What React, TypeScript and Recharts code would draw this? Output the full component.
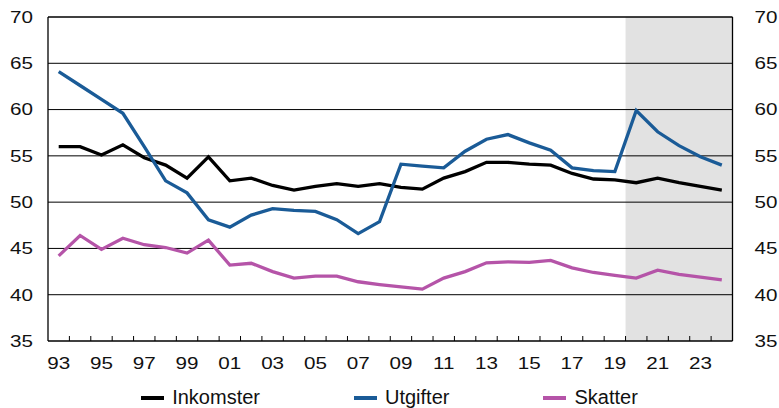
import {
  ComposedChart,
  Legend,
  Line,
  ReferenceArea,
  ReferenceLine,
  XAxis,
  YAxis,
} from "recharts";

const years = [
  1993, 1994, 1995, 1996, 1997, 1998, 1999, 2000, 2001, 2002, 2003, 2004, 2005, 2006, 2007, 2008,
  2009, 2010, 2011, 2012, 2013, 2014, 2015, 2016, 2017, 2018, 2019, 2020, 2021, 2022, 2023, 2024,
];
const inkomster = [
  56.0, 56.0, 55.1, 56.2, 54.8, 54.0, 52.6, 54.9, 52.3, 52.6, 51.8, 51.3, 51.7, 52.0, 51.7, 52.0,
  51.6, 51.4, 52.6, 53.3, 54.3, 54.3, 54.1, 54.0, 53.1, 52.5, 52.4, 52.1, 52.6, 52.1, 51.7, 51.3,
];
const utgifter = [
  64.1, 62.6, 61.1, 59.6, 56.0, 52.3, 51.0, 48.1, 47.3, 48.6, 49.3, 49.1, 49.0, 48.1, 46.6, 47.9,
  54.1, 53.9, 53.7, 55.5, 56.8, 57.3, 56.4, 55.6, 53.7, 53.4, 53.3, 59.9, 57.6, 56.1, 54.9, 54.0,
];
const skatter = [
  44.2, 46.4, 44.9, 46.1, 45.4, 45.1, 44.5, 45.9, 43.2, 43.4, 42.5, 41.8, 42.0, 42.0, 41.4, 41.1,
  40.85, 40.6, 41.8, 42.5, 43.45, 43.55, 43.5, 43.7, 42.9, 42.4, 42.1, 41.8, 42.65, 42.2, 41.9, 41.6,
];
const labelYears = [
  1993, 1995, 1997, 1999, 2001, 2003, 2005, 2007, 2009, 2011, 2013, 2015, 2017, 2019, 2021, 2023,
];
const yTicks = [35, 40, 45, 50, 55, 60, 65, 70];
const gridValues = [40, 45, 50, 55, 60, 65, 70];
const forecastStart = 2020;

// skatter sits on the right axis so that axis gets drawn (same 35-70 scale)
const series = [
  { key: "inkomster", name: "Inkomster", color: "#000000", axis: "L" },
  { key: "utgifter", name: "Utgifter", color: "#1a5b97", axis: "L" },
  { key: "skatter", name: "Skatter", color: "#b554a8", axis: "R" },
];

const data = years.map((year, i) => ({
  year,
  inkomster: inkomster[i],
  utgifter: utgifter[i],
  skatter: skatter[i],
}));

const first = years[0] - 0.5;
const last = years[years.length - 1] + 0.5;
const minorTicks = years.slice(1).map((y) => y - 0.5);
const xTicks = [...minorTicks, ...labelYears].sort((a, b) => a - b);

const FONT = "'Liberation Sans', Arial, Helvetica, sans-serif";
const X_MARGIN = 22;

// the original's digits are drawn wide, so stretch them a bit
function WideText({ anchor, children }: { anchor: string; children: any }) {
  return (
    <text
      transform="scale(1.25,1)"
      textAnchor={anchor}
      dy="0.355em"
      fontSize={16.5}
      fontFamily={FONT}
      fill="#111"
    >
      {children}
    </text>
  );
}

function YTick(props: any) {
  const { x, y, payload, anchor } = props;
  return (
    <g transform={`translate(${x},${y})`}>
      <WideText anchor={anchor}>{payload.value}</WideText>
    </g>
  );
}

// half-year ticks are short inward marks, whole years get a label
function XTick(props: any) {
  const { x, y, payload } = props;
  const v = payload.value as number;
  if (!Number.isInteger(v)) {
    const y0 = y - X_MARGIN;
    return <line x1={x} x2={x} y1={y0} y2={y0 - 5} stroke="#000" strokeWidth={1} />;
  }
  return (
    <g transform={`translate(${x},${y})`}>
      <WideText anchor="middle">{String(v).slice(2)}</WideText>
    </g>
  );
}

function LegendRow() {
  return (
    <div
      style={{
        height: 37,
        boxSizing: "border-box",
        paddingTop: 14,
        display: "flex",
        justifyContent: "center",
        gap: 94,
        fontFamily: FONT,
        fontSize: 20,
        lineHeight: "20px",
        color: "#111",
      }}
    >
      {series.map((s) => (
        <div key={s.key} style={{ display: "flex", alignItems: "center" }}>
          <span
            style={{
              display: "inline-block",
              width: 23,
              height: 4,
              marginTop: 2,
              marginRight: 8,
              background: s.color,
            }}
          />
          {s.name}
        </div>
      ))}
    </div>
  );
}

export default function App() {
  return (
    <div style={{ position: "absolute", left: 0, top: 0 }}>
      <ComposedChart
        width={779}
        height={408}
        data={data}
        margin={{ top: 17, right: 0, bottom: 0, left: 0 }}
      >
        <XAxis
          dataKey="year"
          type="number"
          domain={[first, last]}
          ticks={xTicks}
          interval={0}
          tickLine={false}
          tickSize={0}
          tickMargin={X_MARGIN}
          axisLine={{ stroke: "#000", strokeWidth: 1.3 }}
          height={30}
          tick={(p: any) => <XTick {...p} />}
        />
        <YAxis
          yAxisId="L"
          domain={[35, 70]}
          ticks={yTicks}
          interval={0}
          width={48}
          tickLine={false}
          tickSize={0}
          tickMargin={15}
          axisLine={{ stroke: "#000", strokeWidth: 1.3 }}
          tick={(p: any) => <YTick {...p} anchor="end" />}
        />
        <YAxis
          yAxisId="R"
          orientation="right"
          domain={[35, 70]}
          ticks={yTicks}
          interval={0}
          width={46.5}
          tickLine={false}
          tickSize={0}
          tickMargin={22}
          axisLine={{ stroke: "#000", strokeWidth: 1.3 }}
          tick={(p: any) => <YTick {...p} anchor="start" />}
        />
        <ReferenceArea
          yAxisId="L"
          x1={forecastStart - 0.5}
          x2={last}
          fill="#e2e2e2"
          fillOpacity={1}
          stroke="none"
        />
        {gridValues.map((v) => (
          <ReferenceLine
            key={v}
            yAxisId="L"
            y={v}
            stroke="#000"
            strokeWidth={v === 70 ? 1.3 : 1}
          />
        ))}
        <Legend verticalAlign="bottom" height={37} content={() => <LegendRow />} />
        {series.map((s) => (
          <Line
            key={s.key}
            yAxisId={s.axis}
            dataKey={s.key}
            name={s.name}
            stroke={s.color}
            strokeWidth={3.3}
            dot={false}
            activeDot={false}
            type="linear"
            isAnimationActive={false}
          />
        ))}
      </ComposedChart>
    </div>
  );
}
